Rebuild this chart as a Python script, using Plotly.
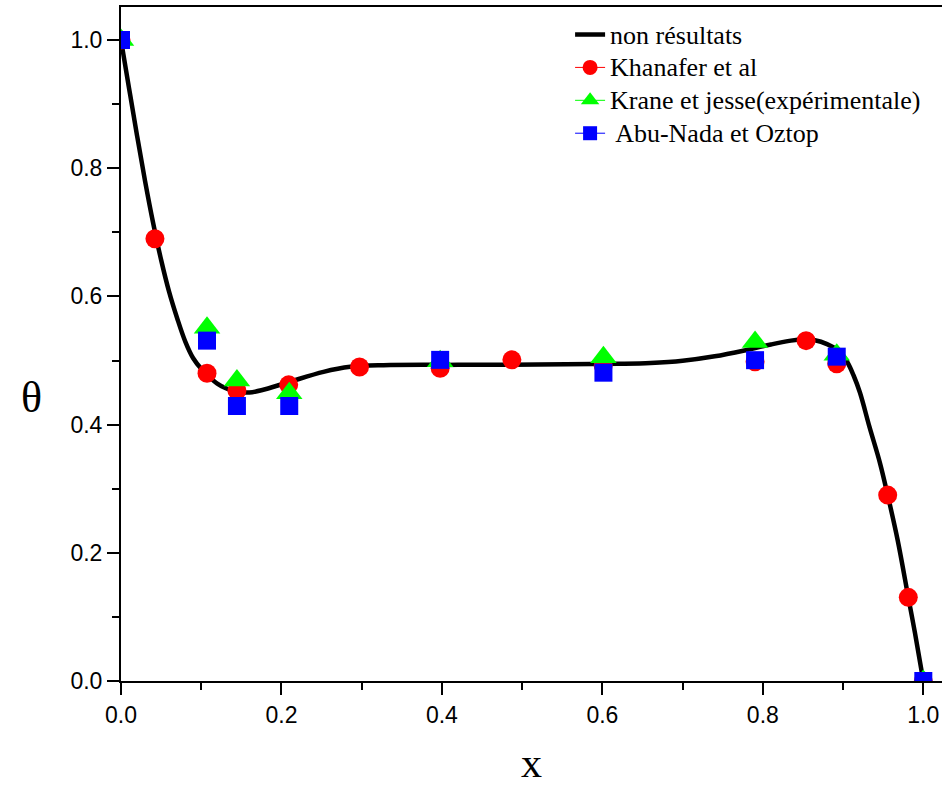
import plotly.graph_objects as go

# Computed temperature profile theta(x)
curve_x = [0.0, 0.01, 0.02, 0.03, 0.04, 0.05, 0.06, 0.07, 0.08, 0.09,
           0.10, 0.11, 0.12, 0.13, 0.14, 0.15, 0.16, 0.175, 0.21, 0.2524,
           0.2857, 0.3272, 0.42, 0.52, 0.62, 0.66, 0.70, 0.74, 0.78, 0.81,
           0.835, 0.85, 0.865, 0.88, 0.895, 0.905, 0.913, 0.921, 0.933, 0.946,
           0.9556, 0.968, 0.9813, 0.9896, 1.0]
curve_y = [1.0, 0.925, 0.851, 0.780, 0.715, 0.657, 0.607, 0.566, 0.530, 0.5035,
           0.487, 0.4745, 0.464, 0.457, 0.4525, 0.4505, 0.450, 0.4535, 0.4667, 0.4823,
           0.4901, 0.4927, 0.4932, 0.4938, 0.4948, 0.4960, 0.4995, 0.5065, 0.5165, 0.5250,
           0.5310, 0.5328, 0.5315, 0.5255, 0.5145, 0.498, 0.477, 0.450, 0.396, 0.340,
           0.290, 0.220, 0.1305, 0.075, 0.0]

# Khanafer et al
kh_x = [0.0, 0.0423, 0.1072, 0.1445, 0.2090, 0.2973, 0.3978, 0.4872, 0.6010, 0.7903,
        0.8539, 0.8921, 0.9556, 0.9813, 1.0]
kh_y = [1.0, 0.690, 0.480, 0.453, 0.462, 0.490, 0.488, 0.501, 0.492, 0.498,
        0.531, 0.495, 0.290, 0.1305, 0.0]

# Krane et jesse (experimental)
kj_x = [0.0, 0.1072, 0.1445, 0.2097, 0.3978, 0.6013, 0.7903, 0.8921, 1.0]
kj_y = [1.0, 0.551, 0.469, 0.449, 0.499, 0.505, 0.529, 0.509, 0.0]

# Abu-Nada et Oztop
an_x = [0.0, 0.1072, 0.1445, 0.2097, 0.3978, 0.6013, 0.7903, 0.8921, 1.0]
an_y = [1.0, 0.531, 0.429, 0.429, 0.501, 0.481, 0.5005, 0.506, 0.0]

x_ticks = [0.0, 0.2, 0.4, 0.6, 0.8, 1.0]
y_ticks = [0.0, 0.2, 0.4, 0.6, 0.8, 1.0]

RED, GREEN, BLUE = "rgb(255,0,0)", "rgb(0,255,0)", "rgb(0,0,255)"
SERIF = "Liberation Serif, Times New Roman, serif"
SANS = "Liberation Sans, Arial, sans-serif"


def big(label):
    return '<span style="font-size:26px">' + label + "</span>"


fig = go.Figure()

fig.add_trace(go.Scatter(x=curve_x, y=curve_y, mode="lines",
                         line=dict(color="black", width=4.5, shape="spline", smoothing=1.0),
                         name=big("non résultats"), showlegend=True))

# plotted markers (no connecting lines)
fig.add_trace(go.Scatter(x=kh_x, y=kh_y, mode="markers", showlegend=False,
                         marker=dict(symbol="circle", size=19, color=RED)))
fig.add_trace(go.Scatter(x=kj_x, y=kj_y, mode="markers", showlegend=False,
                         marker=dict(symbol="triangle-up", size=23, color=GREEN)))
fig.add_trace(go.Scatter(x=an_x, y=an_y, mode="markers", showlegend=False,
                         marker=dict(symbol="square", size=18, color=BLUE)))

# legend entries drawn as line + symbol
for name, col, sym, sz in [("Khanafer et al", RED, "circle", 15),
                           ("Krane et jesse(expérimentale)", GREEN, "triangle-up", 16),
                           (" Abu-Nada et Oztop", BLUE, "square", 14)]:
    fig.add_trace(go.Scatter(x=[None], y=[None], mode="lines+markers", name=big(name),
                             line=dict(color=col, width=1),
                             marker=dict(symbol=sym, size=sz, color=col)))

fig.update_layout(
    width=942, height=786,
    margin=dict(l=121, r=0, t=7, b=105),
    plot_bgcolor="white", paper_bgcolor="white",
    showlegend=True,
    legend=dict(x=0.547, y=0.991, xanchor="left", yanchor="top",
                bgcolor="rgba(0,0,0,0)", borderwidth=0,
                font=dict(family=SERIF, size=23, color="black"),
                tracegroupgap=0),
    xaxis=dict(range=[0, 1.0233], tickvals=x_ticks, tickformat=".1f",
               showgrid=False, zeroline=False, showline=True, linewidth=2,
               linecolor="black", mirror=True, ticks="outside", ticklen=12,
               tickwidth=2, tickcolor="black",
               tickfont=dict(family=SANS, size=23, color="black"),
               minor=dict(dtick=0.1, tick0=0, ticks="outside", ticklen=7,
                          tickwidth=2, tickcolor="black", showgrid=False),
               title=dict(text="x", font=dict(family=SERIF, size=42, color="black"),
                          standoff=29)),
    yaxis=dict(range=[0, 1.0515], tickvals=y_ticks, tickformat=".1f",
               showgrid=False, zeroline=False, showline=True, linewidth=2,
               linecolor="black", mirror=False, ticks="outside", ticklen=12,
               tickwidth=2, tickcolor="black",
               tickfont=dict(family=SANS, size=23, color="black"),
               minor=dict(dtick=0.1, tick0=0, ticks="outside", ticklen=7,
                          tickwidth=2, tickcolor="black", showgrid=False)),
    annotations=[dict(text="θ", xref="paper", yref="paper", x=-0.109, y=0.42,
                      xanchor="center", yanchor="middle", showarrow=False,
                      font=dict(family=SERIF, size=44, color="black"))],
)

fig.write_html("out.html")
